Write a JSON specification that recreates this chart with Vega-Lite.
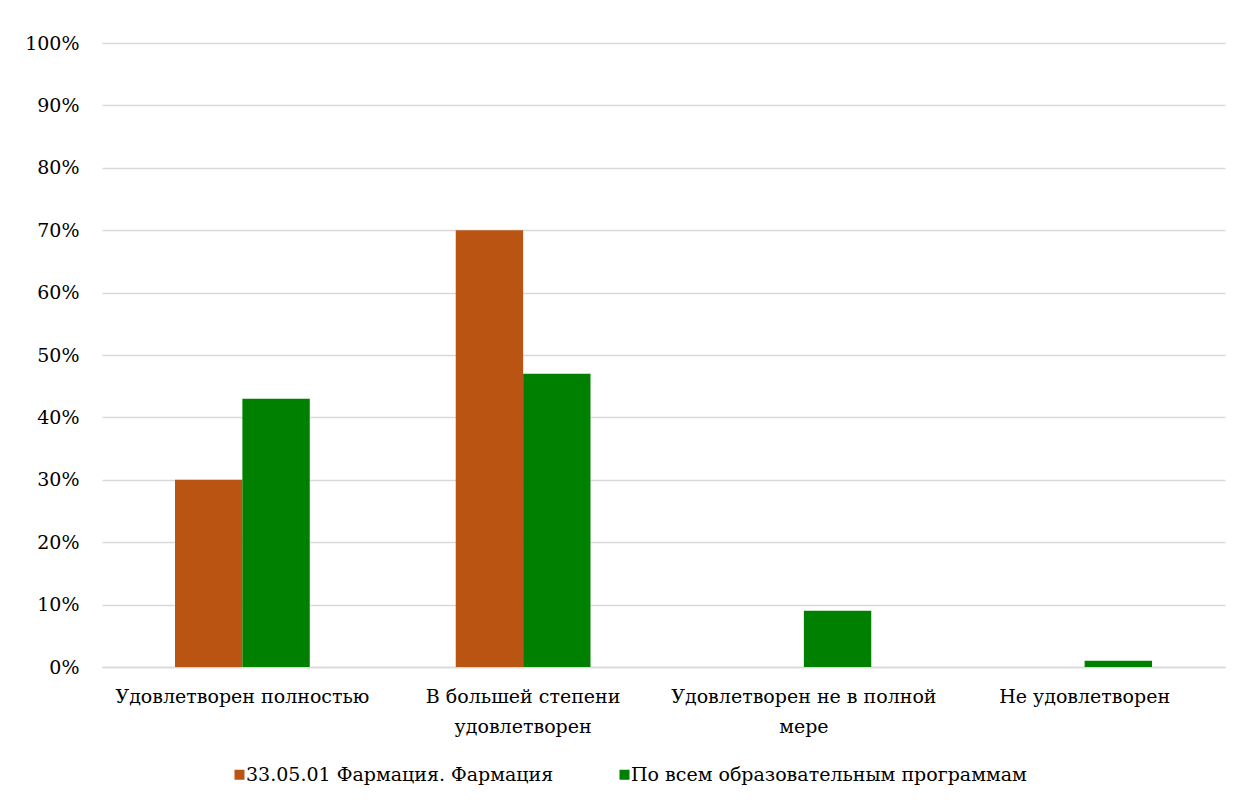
{
  "$schema": "https://vega.github.io/schema/vega-lite/v6.json",
  "autosize": "none",
  "width": 1123,
  "height": 624,
  "padding": {"left": 102, "top": 43, "right": 18, "bottom": 138},
  "background": "white",
  "config": {
    "font": "DejaVu Serif",
    "view": {"stroke": null},
    "axis": {"labelFont": "DejaVu Serif"},
    "legend": {"labelFont": "DejaVu Serif"}
  },
  "data": {
    "values": [
      {"category": "Удовлетворен полностью", "series": "33.05.01 Фармация. Фармация", "value": 0.30},
      {"category": "Удовлетворен полностью", "series": "По всем образовательным программам", "value": 0.43},
      {"category": "В большей степени удовлетворен", "series": "33.05.01 Фармация. Фармация", "value": 0.70},
      {"category": "В большей степени удовлетворен", "series": "По всем образовательным программам", "value": 0.47},
      {"category": "Удовлетворен не в полной мере", "series": "33.05.01 Фармация. Фармация", "value": 0.0},
      {"category": "Удовлетворен не в полной мере", "series": "По всем образовательным программам", "value": 0.09},
      {"category": "Не удовлетворен", "series": "33.05.01 Фармация. Фармация", "value": 0.0},
      {"category": "Не удовлетворен", "series": "По всем образовательным программам", "value": 0.01}
    ]
  },
  "mark": {"type": "bar"},
  "encoding": {
    "x": {
      "field": "category",
      "type": "nominal",
      "sort": null,
      "scale": {"paddingInner": 0.52, "paddingOuter": 0.26},
      "axis": {
        "title": null,
        "labelAngle": 0,
        "labelFontSize": 19,
        "labelColor": "#000000",
        "labelPadding": 20,
        "labelLineHeight": 30,
        "labelLimit": 400,
        "ticks": false,
        "domainColor": "#d9d9d9",
        "domainWidth": 1.5,
        "labelExpr": "datum.label == 'В большей степени удовлетворен' ? ['В большей степени', 'удовлетворен'] : datum.label == 'Удовлетворен не в полной мере' ? ['Удовлетворен не в полной', 'мере'] : datum.label"
      }
    },
    "xOffset": {"field": "series", "type": "nominal", "scale": {"paddingInner": 0, "paddingOuter": 0}},
    "y": {
      "field": "value",
      "type": "quantitative",
      "scale": {"domain": [0, 1], "nice": false},
      "axis": {
        "title": null,
        "format": ".0%",
        "values": [0, 0.1, 0.2, 0.3, 0.4, 0.5, 0.6, 0.7, 0.8, 0.9, 1.0],
        "labelFontSize": 19,
        "labelColor": "#000000",
        "labelPadding": 23,
        "ticks": false,
        "domain": false,
        "gridColor": "#d9d9d9",
        "gridWidth": 1.5
      }
    },
    "color": {
      "field": "series",
      "type": "nominal",
      "scale": {
        "domain": ["33.05.01 Фармация. Фармация", "По всем образовательным программам"],
        "range": ["#BA5412", "#008000"]
      },
      "legend": {
        "title": null,
        "orient": "none",
        "direction": "horizontal",
        "legendX": 128,
        "legendY": 722,
        "symbolType": "square",
        "symbolSize": 100,
        "symbolStrokeWidth": 0,
        "labelFontSize": 19,
        "labelColor": "#000000",
        "labelOffset": -3,
        "columnPadding": 61,
        "labelLimit": 500
      }
    }
  }
}
